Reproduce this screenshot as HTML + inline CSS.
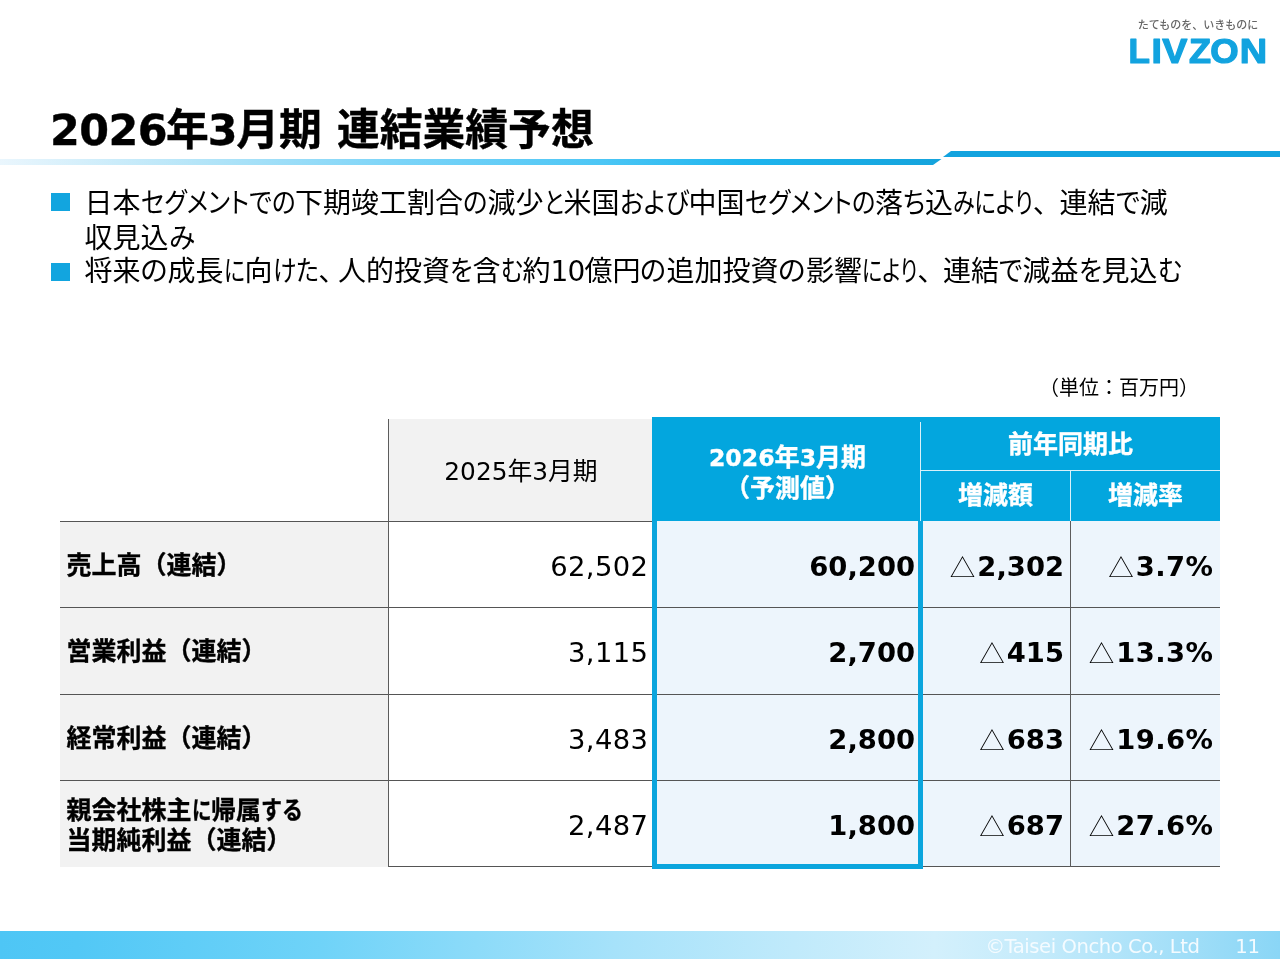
<!DOCTYPE html>
<html lang="ja">
<head>
<meta charset="utf-8">
<title>2026年3月期 連結業績予想</title>
<style>
html,body{margin:0;padding:0;}
body{width:1280px;height:960px;position:relative;overflow:hidden;background:#fff;
  font-family:"Liberation Sans","Noto Sans CJK JP",sans-serif;color:#000;}
.abs{position:absolute;}
.jp{font-family:"Noto Sans CJK JP","Liberation Sans",sans-serif;}
.num{font-family:"DejaVu Sans","Liberation Sans","Noto Sans CJK JP",sans-serif;}
#title{-webkit-text-stroke:0.4px #000;left:50px;top:103px;font-size:42.8px;word-spacing:3.2px;font-weight:bold;white-space:nowrap;line-height:54px;}
#title .num{letter-spacing:-0.5px;}
.bullet{left:51px;width:18.5px;height:17.6px;background:#12a5df;}
.btxt{left:84.5px;font-size:28px;line-height:34px;white-space:nowrap;font-feature-settings:"palt";}
.k{display:inline-block;white-space:nowrap;}
.k>span{display:inline-block;transform-origin:0 50%;}
#unit{left:1039px;top:374px;font-size:20px;line-height:28px;white-space:nowrap;}
#footer{left:0;top:931px;width:1280px;height:27.6px;background:linear-gradient(90deg,#4ec6f5 0%,#52c8f6 6%,#6fd3f8 25%,#a6e2fa 48%,#c0eafb 62%,#d3f0fc 73%,#c5ebfb 81%,#8ad6f6 100%);}
#copy{right:80.5px;top:934px;font-size:19.6px;line-height:26px;color:#f4fbff;white-space:nowrap;letter-spacing:-0.45px;}
#pg{right:20.5px;top:934px;font-size:19.6px;line-height:26px;color:#f4fbff;letter-spacing:-0.4px;}
/* table */
.cell{position:absolute;box-sizing:border-box;}
.g{background:#f2f2f2;}
.lb{background:#edf5fc;}
.hl{position:absolute;height:1px;background:#555;}
.vl{position:absolute;width:1px;background:#5c5c5c;}
.lab{position:absolute;left:66.5px;font-size:25px;font-weight:bold;line-height:32px;white-space:nowrap;-webkit-text-stroke:0.35px #000;}
.v{position:absolute;font-size:27.4px;line-height:36px;white-space:nowrap;text-align:right;}
.tri{font-family:"Noto Sans CJK JP",sans-serif;font-weight:300;font-size:25.5px;line-height:0;display:inline-block;width:24px;margin-right:3.5px;text-align:center;position:relative;top:0.7px;}
.vb{font-weight:bold;}
.th .num{font-size:23.6px;}
.pc{letter-spacing:0.45px;}
.pc .tri{letter-spacing:0;}
.th{position:absolute;color:#fff;font-weight:bold;font-size:25px;line-height:31px;-webkit-text-stroke:0.35px #fff;text-align:center;white-space:nowrap;}
</style>
</head>
<body>
<!-- logo -->
<div class="abs jp" style="left:1137.7px;top:16px;width:122px;font-size:11px;line-height:16px;color:#666;font-weight:500;white-space:nowrap;letter-spacing:0px">たてものを、いきものに</div>
<svg class="abs" style="left:1120px;top:30px" width="160" height="44" viewBox="0 0 160 44">
<g font-family="Liberation Sans, sans-serif" font-weight="bold" font-size="34.2" fill="#12a3df" stroke="#12a3df" stroke-width="1.2" stroke-linejoin="round">
<text transform="translate(8.55 33.15) scale(1.026 1)">L</text><text transform="translate(31.49 33.15) scale(1.096 1)">I</text><text transform="translate(42.34 33.15) scale(1.101 1)">V</text><text transform="translate(68.93 33.15) scale(1.054 1)">Z</text><text transform="translate(90.35 33.15) scale(1.067 1)">O</text><text transform="translate(119.76 33.15) scale(1.109 1)">N</text>
</g></svg>

<div id="title" class="abs"><span class="num">2026</span><span style="margin-left:-1.2px">年</span><span class="num" style="margin-left:-1px;letter-spacing:-1.3px">3</span>月期 連結業績予想</div>
<svg class="abs" style="left:0;top:148px" width="1280" height="20" viewBox="0 0 1280 20">
  <defs><linearGradient id="rg" gradientUnits="userSpaceOnUse" x1="0" x2="941" y1="0" y2="0"><stop offset="0" stop-color="#eaf6fd"/><stop offset="0.21" stop-color="#b5e5f8"/><stop offset="0.425" stop-color="#7bd4f8"/><stop offset="0.64" stop-color="#4cc6f5"/><stop offset="0.79" stop-color="#1fb5ee"/><stop offset="1" stop-color="#14a3dc"/></linearGradient></defs>
  <polygon points="0,11 941.5,11 933,17 0,17" fill="url(#rg)"/>
  <polygon points="951,3 1280,3 1280,9 943,9" fill="#12a3df"/>
</svg>

<div class="abs bullet" style="top:193px"></div>
<div class="abs btxt" style="top:185.5px;line-height:35px">日本<span class="k" style="width:154.5px"><span style="transform:scaleX(0.879)">セグメントでの</span></span>下期竣工割合<span class="k" style="width:24.5px"><span style="transform:scaleX(0.907)">の</span></span>減少<span class="k" style="width:20px"><span style="transform:scaleX(0.811)">と</span></span>米国<span class="k" style="width:69px"><span style="transform:scaleX(0.881)">および</span></span>中国<span class="k" style="width:130.5px"><span style="transform:scaleX(0.870)">セグメントの</span></span>落<span class="k" style="width:22px"><span style="transform:scaleX(0.891)">ち</span></span>込<span class="k" style="width:80px"><span style="transform:scaleX(0.788)">みにより</span></span><span class="k" style="width:26.5px"><span style="transform:scaleX(1.000)">、</span></span>連結<span class="k" style="width:24px"><span style="transform:scaleX(0.928)">で</span></span>減<br>収見込<span class="k" style="width:26px"><span style="transform:scaleX(0.949)">み</span></span></div>
<div class="abs bullet" style="top:263px"></div>
<div class="abs btxt" style="top:255px">将来<span class="k" style="width:27px"><span style="transform:scaleX(1.000)">の</span></span>成長<span class="k" style="width:21px"><span style="transform:scaleX(0.779)">に</span></span>向<span class="k" style="width:46px"><span style="transform:scaleX(0.851)">けた</span></span><span class="k" style="width:19.5px"><span style="transform:scaleX(1.000)">、</span></span>人的投資<span class="k" style="width:22.5px"><span style="transform:scaleX(0.870)">を</span></span>含<span class="k" style="width:22px"><span style="transform:scaleX(0.826)">む</span></span>約<span class="num" style="letter-spacing:-0.9px">10</span>億円<span class="k" style="width:26px"><span style="transform:scaleX(0.963)">の</span></span>追加投資<span class="k" style="width:27.5px"><span style="transform:scaleX(1.019)">の</span></span>影響<span class="k" style="width:55.5px"><span style="transform:scaleX(0.748)">により</span></span><span class="k" style="width:25.5px"><span style="transform:scaleX(1.000)">、</span></span>連結<span class="k" style="width:23.5px"><span style="transform:scaleX(0.908)">で</span></span>減益<span class="k" style="width:23px"><span style="transform:scaleX(0.889)">を</span></span>見込<span class="k" style="width:24px"><span style="transform:scaleX(0.901)">む</span></span></div>

<div id="unit" class="abs">（単位：百万円）</div>

<!-- table backgrounds -->
<div class="cell g" style="left:388px;top:419px;width:267px;height:102px"></div>
<div class="cell g" style="left:60px;top:521px;width:328px;height:346px"></div>
<div class="cell lb" style="left:654px;top:521px;width:566px;height:346px"></div>
<div class="cell" style="left:652px;top:417px;width:568px;height:104px;background:#03a6de"></div>
<!-- grid lines -->
<div class="hl" style="left:60px;top:521px;width:592px"></div>
<div class="hl" style="left:60px;top:607px;width:1160px"></div>
<div class="hl" style="left:60px;top:694px;width:1160px"></div>
<div class="hl" style="left:60px;top:780px;width:1160px"></div>
<div class="hl" style="left:388px;top:866px;width:832px"></div>
<div class="vl" style="left:388px;top:419px;height:448px"></div>
<div class="vl" style="left:1070px;top:521px;height:346px"></div>
<!-- white header dividers -->
<div class="abs" style="left:920px;top:422px;width:1px;height:99px;background:#d9f1fa"></div>
<div class="abs" style="left:1070px;top:470px;width:1px;height:51px;background:#d9f1fa"></div>
<div class="abs" style="left:921px;top:470px;width:299px;height:1px;background:#d9f1fa"></div>
<!-- blue frame -->
<div class="cell" style="left:652px;top:521px;width:271px;height:348px;border:5px solid #0ba5dd;border-top:none"></div>

<!-- header text -->
<div class="abs" style="left:388px;top:456px;width:266px;text-align:center;font-size:24.8px;line-height:32px;white-space:nowrap"><span class="num">2025</span>年<span class="num">3</span>月期</div>
<div class="th" style="left:655px;top:441.5px;width:265px;line-height:30px"><span class="num">2026</span>年<span class="num">3</span>月期<br>（予測値）</div>
<div class="th" style="left:921px;top:429px;width:299px">前年同期比</div>
<div class="th" style="left:921px;top:480px;width:149px">増減額</div>
<div class="th" style="left:1071px;top:480px;width:149px">増減率</div>

<!-- row labels -->
<div class="lab" style="top:549px">売上高（連結）</div>
<div class="lab" style="top:635px">営業利益（連結）</div>
<div class="lab" style="top:722px">経常利益（連結）</div>
<div class="lab" style="top:794.5px;line-height:30px">親会社株主<span class="k" style="width:19.5px"><span style="transform:scaleX(.78)">に</span></span>帰属<span class="k" style="width:42px"><span style="transform:scaleX(.84)">する</span></span><br>当期純利益（連結）</div>

<!-- values -->
<div class="v num" style="letter-spacing:0.4px;right:631.6px;top:549px">62,502</div>
<div class="v num" style="letter-spacing:0.4px;right:631.6px;top:635px">3,115</div>
<div class="v num" style="letter-spacing:0.4px;right:631.6px;top:722px">3,483</div>
<div class="v num" style="letter-spacing:0.4px;right:631.6px;top:808px">2,487</div>

<div class="v vb num" style="right:365px;top:549px">60,200</div>
<div class="v vb num" style="right:365px;top:635px">2,700</div>
<div class="v vb num" style="right:365px;top:722px">2,800</div>
<div class="v vb num" style="right:365px;top:808px">1,800</div>

<div class="v vb num" style="right:216px;top:549px"><span class="tri">△</span>2,302</div>
<div class="v vb num" style="right:216px;top:635px"><span class="tri">△</span>415</div>
<div class="v vb num" style="right:216px;top:722px"><span class="tri">△</span>683</div>
<div class="v vb num" style="right:216px;top:808px"><span class="tri">△</span>687</div>

<div class="v vb num pc" style="right:66.5px;top:549px"><span class="tri">△</span>3.7%</div>
<div class="v vb num pc" style="right:66.5px;top:635px"><span class="tri">△</span>13.3%</div>
<div class="v vb num pc" style="right:66.5px;top:722px"><span class="tri">△</span>19.6%</div>
<div class="v vb num pc" style="right:66.5px;top:808px"><span class="tri">△</span>27.6%</div>

<div id="footer" class="abs"></div>
<div id="copy" class="abs num">©Taisei Oncho Co., Ltd</div>
<div id="pg" class="abs num">11</div>
</body>
</html>
